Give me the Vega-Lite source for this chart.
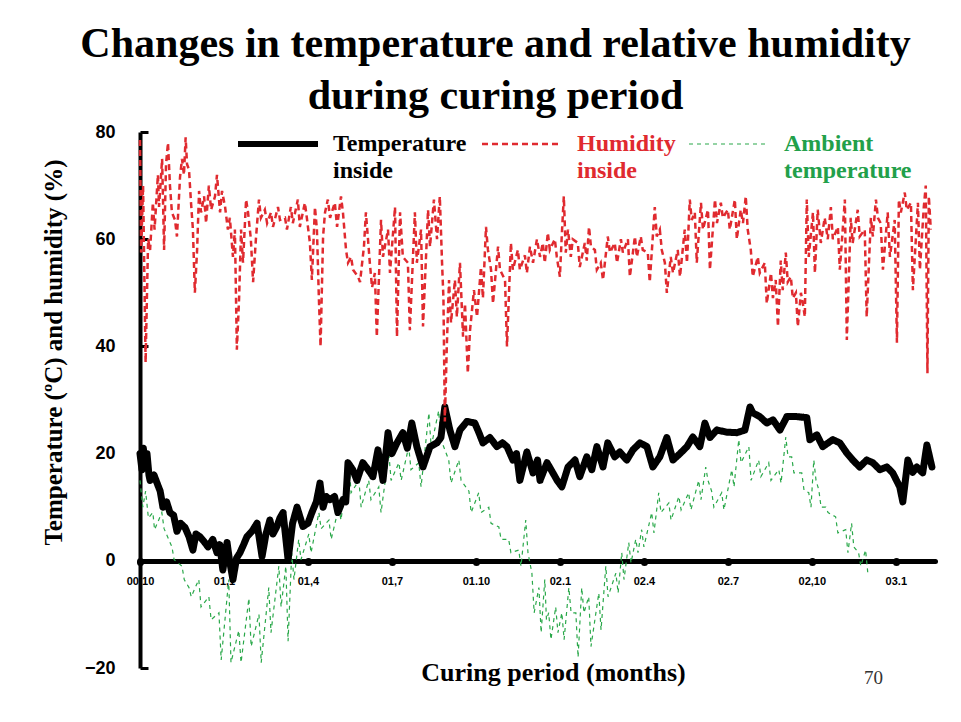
{
"$schema": "https://vega.github.io/schema/vega-lite/v6.json",
"width": 795, "height": 536,
"autosize": {"type": "none"},
"padding": {"left": 140, "top": 132, "right": 26, "bottom": 54},
"background": "white",
"title": {"text": ["Changes in temperature and relative humidity", "during curing period"], "font": "Liberation Serif", "fontSize": 42, "fontWeight": "bold", "color": "black", "anchor": "middle", "frame": "group", "dx": -42, "offset": 5, "lineHeight": 52},
"config": {"view": {"stroke": null}, "axis": {"grid": false}},
"datasets": {
"series": [
{"s":"T","t":0,"v":20},{"s":"T","t":0.07,"v":17},{"s":"T","t":0.12,"v":21},{"s":"T","t":0.18,"v":18},{"s":"T","t":0.25,"v":20},{"s":"T","t":0.32,"v":16},{"s":"T","t":0.36,"v":15},{"s":"T","t":0.5,"v":16},{"s":"T","t":0.61,"v":14.5},{"s":"T","t":0.72,"v":13},{"s":"T","t":0.82,"v":10},{"s":"T","t":0.95,"v":11},{"s":"T","t":1.07,"v":9},{"s":"T","t":1.2,"v":8.5},{"s":"T","t":1.32,"v":5.5},{"s":"T","t":1.45,"v":7},{"s":"T","t":1.61,"v":6.2},{"s":"T","t":1.75,"v":4.5},{"s":"T","t":1.89,"v":2},{"s":"T","t":2.0,"v":5},{"s":"T","t":2.14,"v":4.5},{"s":"T","t":2.3,"v":3.5},{"s":"T","t":2.43,"v":2.6},{"s":"T","t":2.6,"v":4},{"s":"T","t":2.75,"v":1.5},{"s":"T","t":2.85,"v":3},{"s":"T","t":2.96,"v":-1.7},{"s":"T","t":3.11,"v":3.4},{"s":"T","t":3.2,"v":0},{"s":"T","t":3.32,"v":-3.5},{"s":"T","t":3.45,"v":0.5},{"s":"T","t":3.57,"v":1.5},{"s":"T","t":3.7,"v":3},{"s":"T","t":3.82,"v":4.5},{"s":"T","t":4.0,"v":5.5},{"s":"T","t":4.18,"v":7},{"s":"T","t":4.36,"v":0.8},{"s":"T","t":4.5,"v":5},{"s":"T","t":4.64,"v":7.6},{"s":"T","t":4.75,"v":5},{"s":"T","t":4.89,"v":6.4},{"s":"T","t":5.0,"v":8},{"s":"T","t":5.11,"v":9},{"s":"T","t":5.29,"v":0.2},{"s":"T","t":5.45,"v":7},{"s":"T","t":5.61,"v":10},{"s":"T","t":5.82,"v":6.4},{"s":"T","t":6.0,"v":7},{"s":"T","t":6.14,"v":9},{"s":"T","t":6.3,"v":11},{"s":"T","t":6.43,"v":14.5},{"s":"T","t":6.54,"v":10},{"s":"T","t":6.65,"v":12},{"s":"T","t":6.79,"v":11.4},{"s":"T","t":6.95,"v":12},{"s":"T","t":7.07,"v":9},{"s":"T","t":7.25,"v":11.4},{"s":"T","t":7.35,"v":11},{"s":"T","t":7.43,"v":18.3},{"s":"T","t":7.6,"v":17},{"s":"T","t":7.75,"v":15},{"s":"T","t":7.96,"v":18.3},{"s":"T","t":8.15,"v":17},{"s":"T","t":8.32,"v":15.7},{"s":"T","t":8.5,"v":20.7},{"s":"T","t":8.68,"v":15},{"s":"T","t":8.86,"v":23.9},{"s":"T","t":9.0,"v":20},{"s":"T","t":9.18,"v":22},{"s":"T","t":9.39,"v":23.9},{"s":"T","t":9.55,"v":21},{"s":"T","t":9.71,"v":25.7},{"s":"T","t":9.89,"v":21.3},{"s":"T","t":10.11,"v":17.5},{"s":"T","t":10.36,"v":21.3},{"s":"T","t":10.61,"v":22},{"s":"T","t":10.75,"v":23},{"s":"T","t":10.89,"v":28.7},{"s":"T","t":11.07,"v":24.4},{"s":"T","t":11.25,"v":21.3},{"s":"T","t":11.43,"v":24.4},{"s":"T","t":11.68,"v":26},{"s":"T","t":11.96,"v":25.7},{"s":"T","t":12.1,"v":24},{"s":"T","t":12.25,"v":22},{"s":"T","t":12.5,"v":23},{"s":"T","t":12.75,"v":21.3},{"s":"T","t":12.95,"v":22},{"s":"T","t":13.11,"v":21.3},{"s":"T","t":13.32,"v":18.8},{"s":"T","t":13.45,"v":20},{"s":"T","t":13.57,"v":15},{"s":"T","t":13.82,"v":20.3},{"s":"T","t":14.04,"v":16.4},{"s":"T","t":14.2,"v":18.8},{"s":"T","t":14.29,"v":15},{"s":"T","t":14.54,"v":18.3},{"s":"T","t":14.75,"v":16.4},{"s":"T","t":14.9,"v":15},{"s":"T","t":15.07,"v":13.8},{"s":"T","t":15.29,"v":17.5},{"s":"T","t":15.54,"v":18.8},{"s":"T","t":15.71,"v":15.7},{"s":"T","t":15.96,"v":19.4},{"s":"T","t":16.14,"v":17},{"s":"T","t":16.32,"v":21.3},{"s":"T","t":16.54,"v":17.5},{"s":"T","t":16.71,"v":22},{"s":"T","t":16.96,"v":19.4},{"s":"T","t":17.14,"v":20.3},{"s":"T","t":17.39,"v":18.8},{"s":"T","t":17.61,"v":20.7},{"s":"T","t":17.86,"v":22},{"s":"T","t":18.11,"v":21.3},{"s":"T","t":18.32,"v":17.5},{"s":"T","t":18.57,"v":19.4},{"s":"T","t":18.82,"v":23},{"s":"T","t":19.04,"v":18.8},{"s":"T","t":19.29,"v":20},{"s":"T","t":19.54,"v":21.3},{"s":"T","t":19.75,"v":23.1},{"s":"T","t":20.0,"v":21.3},{"s":"T","t":20.18,"v":25.7},{"s":"T","t":20.36,"v":23},{"s":"T","t":20.61,"v":24.4},{"s":"T","t":20.96,"v":24},{"s":"T","t":21.32,"v":23.9},{"s":"T","t":21.61,"v":24.4},{"s":"T","t":21.79,"v":28.7},{"s":"T","t":21.89,"v":27.6},{"s":"T","t":22.14,"v":26.9},{"s":"T","t":22.39,"v":25.7},{"s":"T","t":22.61,"v":26.3},{"s":"T","t":22.86,"v":24.4},{"s":"T","t":23.11,"v":26.9},{"s":"T","t":23.46,"v":26.9},{"s":"T","t":23.82,"v":26.7},{"s":"T","t":23.93,"v":22.6},{"s":"T","t":24.18,"v":23.5},{"s":"T","t":24.39,"v":21.3},{"s":"T","t":24.75,"v":22.6},{"s":"T","t":25.0,"v":22},{"s":"T","t":25.25,"v":20.1},{"s":"T","t":25.46,"v":18.8},{"s":"T","t":25.71,"v":17.5},{"s":"T","t":25.96,"v":18.8},{"s":"T","t":26.18,"v":18.3},{"s":"T","t":26.43,"v":17},{"s":"T","t":26.68,"v":17.5},{"s":"T","t":26.89,"v":16.4},{"s":"T","t":27.14,"v":13.8},{"s":"T","t":27.25,"v":11},{"s":"T","t":27.43,"v":18.8},{"s":"T","t":27.6,"v":16.5},{"s":"T","t":27.75,"v":17.5},{"s":"T","t":27.96,"v":16.4},{"s":"T","t":28.11,"v":21.6},{"s":"T","t":28.29,"v":17.5},
{"s":"A","t":0.0,"v":15},{"s":"A","t":0.1,"v":10},{"s":"A","t":0.2,"v":13},{"s":"A","t":0.3,"v":8},{"s":"A","t":0.46,"v":9},{"s":"A","t":0.52,"v":5.8},{"s":"A","t":0.78,"v":9},{"s":"A","t":0.86,"v":6},{"s":"A","t":1.14,"v":2.6},{"s":"A","t":1.22,"v":0.2},{"s":"A","t":1.5,"v":-1},{"s":"A","t":1.58,"v":-3.5},{"s":"A","t":1.75,"v":-5},{"s":"A","t":1.83,"v":-6.7},{"s":"A","t":2.1,"v":-3.5},{"s":"A","t":2.18,"v":-8.6},{"s":"A","t":2.46,"v":-6.7},{"s":"A","t":2.54,"v":-11},{"s":"A","t":2.82,"v":-9.7},{"s":"A","t":2.9,"v":-18.5},{"s":"A","t":3.17,"v":-3.5},{"s":"A","t":3.25,"v":-19},{"s":"A","t":3.53,"v":-13},{"s":"A","t":3.61,"v":-19},{"s":"A","t":3.89,"v":-7},{"s":"A","t":3.97,"v":-16},{"s":"A","t":4.25,"v":-10},{"s":"A","t":4.33,"v":-19},{"s":"A","t":4.6,"v":-5},{"s":"A","t":4.68,"v":-13.4},{"s":"A","t":4.96,"v":-1},{"s":"A","t":5.04,"v":-8.6},{"s":"A","t":5.21,"v":-1},{"s":"A","t":5.29,"v":-15},{"s":"A","t":5.42,"v":1.5},{"s":"A","t":5.5,"v":-3.5},{"s":"A","t":5.67,"v":4},{"s":"A","t":5.75,"v":0.2},{"s":"A","t":6.03,"v":5},{"s":"A","t":6.11,"v":1.5},{"s":"A","t":6.39,"v":9},{"s":"A","t":6.47,"v":6},{"s":"A","t":6.75,"v":7.6},{"s":"A","t":6.83,"v":4},{"s":"A","t":7.1,"v":10},{"s":"A","t":7.18,"v":7.6},{"s":"A","t":7.46,"v":18.8},{"s":"A","t":7.54,"v":12.7},{"s":"A","t":7.82,"v":15},{"s":"A","t":7.9,"v":10},{"s":"A","t":8.17,"v":15},{"s":"A","t":8.25,"v":11.4},{"s":"A","t":8.53,"v":13.8},{"s":"A","t":8.61,"v":9},{"s":"A","t":8.89,"v":20},{"s":"A","t":8.97,"v":15},{"s":"A","t":9.25,"v":18.3},{"s":"A","t":9.33,"v":15},{"s":"A","t":9.6,"v":21.3},{"s":"A","t":9.68,"v":17},{"s":"A","t":9.96,"v":18.3},{"s":"A","t":10.04,"v":13.8},{"s":"A","t":10.32,"v":27.6},{"s":"A","t":10.4,"v":21.3},{"s":"A","t":10.67,"v":28},{"s":"A","t":10.75,"v":22.6},{"s":"A","t":11.03,"v":18.8},{"s":"A","t":11.11,"v":14.5},{"s":"A","t":11.39,"v":18.8},{"s":"A","t":11.47,"v":15},{"s":"A","t":11.75,"v":13},{"s":"A","t":11.83,"v":9},{"s":"A","t":12.1,"v":12.7},{"s":"A","t":12.18,"v":9},{"s":"A","t":12.46,"v":10},{"s":"A","t":12.54,"v":7},{"s":"A","t":12.82,"v":6.3},{"s":"A","t":12.9,"v":4},{"s":"A","t":13.17,"v":4},{"s":"A","t":13.25,"v":1.5},{"s":"A","t":13.53,"v":2},{"s":"A","t":13.61,"v":-1},{"s":"A","t":13.78,"v":7.6},{"s":"A","t":13.86,"v":1.5},{"s":"A","t":14.0,"v":-2.3},{"s":"A","t":14.08,"v":-9.7},{"s":"A","t":14.25,"v":-5},{"s":"A","t":14.33,"v":-13.4},{"s":"A","t":14.46,"v":-3.5},{"s":"A","t":14.52,"v":-11},{"s":"A","t":14.6,"v":-9.7},{"s":"A","t":14.68,"v":-14.7},{"s":"A","t":14.85,"v":-8.6},{"s":"A","t":14.93,"v":-13.4},{"s":"A","t":15.07,"v":-9.7},{"s":"A","t":15.15,"v":-14.7},{"s":"A","t":15.32,"v":-5},{"s":"A","t":15.4,"v":-9.7},{"s":"A","t":15.57,"v":-9.7},{"s":"A","t":15.65,"v":-18},{"s":"A","t":15.78,"v":-5},{"s":"A","t":15.86,"v":-9.7},{"s":"A","t":16.03,"v":-6.7},{"s":"A","t":16.11,"v":-16},{"s":"A","t":16.39,"v":-6},{"s":"A","t":16.47,"v":-12.9},{"s":"A","t":16.64,"v":-1},{"s":"A","t":16.72,"v":-6.7},{"s":"A","t":17.0,"v":-2.3},{"s":"A","t":17.08,"v":-6},{"s":"A","t":17.21,"v":1.5},{"s":"A","t":17.29,"v":-3.5},{"s":"A","t":17.46,"v":3.4},{"s":"A","t":17.54,"v":-0.4},{"s":"A","t":17.71,"v":4},{"s":"A","t":17.79,"v":1.5},{"s":"A","t":17.92,"v":5.8},{"s":"A","t":18.0,"v":2.6},{"s":"A","t":18.28,"v":9},{"s":"A","t":18.36,"v":5.2},{"s":"A","t":18.53,"v":12.7},{"s":"A","t":18.61,"v":9},{"s":"A","t":18.89,"v":10.8},{"s":"A","t":18.97,"v":7.6},{"s":"A","t":19.25,"v":12},{"s":"A","t":19.33,"v":9.5},{"s":"A","t":19.6,"v":12.7},{"s":"A","t":19.68,"v":9.5},{"s":"A","t":19.96,"v":15},{"s":"A","t":20.04,"v":11.4},{"s":"A","t":20.21,"v":17.5},{"s":"A","t":20.29,"v":15},{"s":"A","t":20.42,"v":13},{"s":"A","t":20.5,"v":10},{"s":"A","t":20.78,"v":12.7},{"s":"A","t":20.86,"v":9.5},{"s":"A","t":21.14,"v":17},{"s":"A","t":21.22,"v":13.8},{"s":"A","t":21.39,"v":22.6},{"s":"A","t":21.47,"v":18.3},{"s":"A","t":21.75,"v":21.3},{"s":"A","t":21.83,"v":15},{"s":"A","t":22.1,"v":18.8},{"s":"A","t":22.18,"v":15.7},{"s":"A","t":22.46,"v":18.3},{"s":"A","t":22.54,"v":15},{"s":"A","t":22.82,"v":17},{"s":"A","t":22.9,"v":14.5},{"s":"A","t":23.07,"v":23.1},{"s":"A","t":23.15,"v":19.4},{"s":"A","t":23.28,"v":19.4},{"s":"A","t":23.36,"v":16.4},{"s":"A","t":23.64,"v":16.4},{"s":"A","t":23.72,"v":13.2},{"s":"A","t":23.89,"v":12.7},{"s":"A","t":23.97,"v":10},{"s":"A","t":24.07,"v":18.8},{"s":"A","t":24.15,"v":15},{"s":"A","t":24.25,"v":13.2},{"s":"A","t":24.33,"v":10},{"s":"A","t":24.5,"v":10},{"s":"A","t":24.58,"v":9},{"s":"A","t":24.85,"v":8.2},{"s":"A","t":24.93,"v":5.2},{"s":"A","t":25.21,"v":5.8},{"s":"A","t":25.29,"v":1.5},{"s":"A","t":25.42,"v":7},{"s":"A","t":25.5,"v":2.6},{"s":"A","t":25.67,"v":1.5},{"s":"A","t":25.75,"v":-1},{"s":"A","t":25.92,"v":2},{"s":"A","t":26.0,"v":-2.3},
{"s":"H","t":0.0,"v":78.5},{"s":"H","t":0.04,"v":57.5},{"s":"H","t":0.11,"v":70},{"s":"H","t":0.2,"v":37},{"s":"H","t":0.29,"v":60},{"s":"H","t":0.36,"v":58},{"s":"H","t":0.46,"v":66.8},{"s":"H","t":0.52,"v":61.8},{"s":"H","t":0.64,"v":72},{"s":"H","t":0.68,"v":66},{"s":"H","t":0.79,"v":75},{"s":"H","t":0.86,"v":58},{"s":"H","t":0.93,"v":74},{"s":"H","t":1.0,"v":78},{"s":"H","t":1.07,"v":70},{"s":"H","t":1.14,"v":65},{"s":"H","t":1.25,"v":63.6},{"s":"H","t":1.32,"v":60.5},{"s":"H","t":1.43,"v":71.6},{"s":"H","t":1.5,"v":75},{"s":"H","t":1.57,"v":72},{"s":"H","t":1.63,"v":79},{"s":"H","t":1.68,"v":74},{"s":"H","t":1.75,"v":73},{"s":"H","t":1.82,"v":67},{"s":"H","t":1.89,"v":61.8},{"s":"H","t":1.96,"v":50},{"s":"H","t":2.04,"v":58},{"s":"H","t":2.11,"v":69},{"s":"H","t":2.18,"v":65},{"s":"H","t":2.29,"v":68},{"s":"H","t":2.36,"v":63},{"s":"H","t":2.46,"v":70},{"s":"H","t":2.54,"v":65.5},{"s":"H","t":2.68,"v":68},{"s":"H","t":2.75,"v":72},{"s":"H","t":2.86,"v":65},{"s":"H","t":2.93,"v":69},{"s":"H","t":3.04,"v":66},{"s":"H","t":3.14,"v":61.8},{"s":"H","t":3.21,"v":64},{"s":"H","t":3.32,"v":56.7},{"s":"H","t":3.39,"v":61.8},{"s":"H","t":3.46,"v":39.4},{"s":"H","t":3.54,"v":49},{"s":"H","t":3.61,"v":61.8},{"s":"H","t":3.68,"v":55.6},{"s":"H","t":3.79,"v":67.4},{"s":"H","t":3.86,"v":65},{"s":"H","t":3.96,"v":60},{"s":"H","t":4.04,"v":52},{"s":"H","t":4.14,"v":60},{"s":"H","t":4.25,"v":67.4},{"s":"H","t":4.32,"v":64},{"s":"H","t":4.46,"v":65.5},{"s":"H","t":4.54,"v":63},{"s":"H","t":4.68,"v":65},{"s":"H","t":4.75,"v":62.3},{"s":"H","t":4.93,"v":66},{"s":"H","t":5.0,"v":63.6},{"s":"H","t":5.18,"v":64},{"s":"H","t":5.25,"v":61.8},{"s":"H","t":5.39,"v":66},{"s":"H","t":5.46,"v":63},{"s":"H","t":5.64,"v":67.4},{"s":"H","t":5.71,"v":62.3},{"s":"H","t":5.89,"v":66.8},{"s":"H","t":5.96,"v":64},{"s":"H","t":6.07,"v":59.3},{"s":"H","t":6.14,"v":52.4},{"s":"H","t":6.25,"v":66},{"s":"H","t":6.32,"v":61.8},{"s":"H","t":6.39,"v":49},{"s":"H","t":6.45,"v":40},{"s":"H","t":6.54,"v":60.5},{"s":"H","t":6.61,"v":65},{"s":"H","t":6.71,"v":67.4},{"s":"H","t":6.79,"v":64},{"s":"H","t":6.96,"v":66.8},{"s":"H","t":7.04,"v":62.3},{"s":"H","t":7.18,"v":68},{"s":"H","t":7.25,"v":65},{"s":"H","t":7.36,"v":58},{"s":"H","t":7.43,"v":55.6},{"s":"H","t":7.54,"v":56.7},{"s":"H","t":7.61,"v":54.3},{"s":"H","t":7.79,"v":53},{"s":"H","t":7.86,"v":52},{"s":"H","t":8.0,"v":58.6},{"s":"H","t":8.07,"v":65},{"s":"H","t":8.21,"v":55.6},{"s":"H","t":8.29,"v":51},{"s":"H","t":8.39,"v":53.7},{"s":"H","t":8.46,"v":41.8},{"s":"H","t":8.61,"v":63.6},{"s":"H","t":8.68,"v":56.7},{"s":"H","t":8.86,"v":61.8},{"s":"H","t":8.93,"v":53.7},{"s":"H","t":9.11,"v":66},{"s":"H","t":9.18,"v":41.8},{"s":"H","t":9.29,"v":65},{"s":"H","t":9.39,"v":56.7},{"s":"H","t":9.57,"v":55.6},{"s":"H","t":9.64,"v":43},{"s":"H","t":9.82,"v":65},{"s":"H","t":9.89,"v":55.6},{"s":"H","t":10.04,"v":61.8},{"s":"H","t":10.11,"v":43.7},{"s":"H","t":10.29,"v":65.5},{"s":"H","t":10.36,"v":58.6},{"s":"H","t":10.5,"v":67.4},{"s":"H","t":10.61,"v":60},{"s":"H","t":10.71,"v":68},{"s":"H","t":10.79,"v":55.6},{"s":"H","t":10.84,"v":49},{"s":"H","t":10.89,"v":26},{"s":"H","t":10.96,"v":40},{"s":"H","t":11.04,"v":52.4},{"s":"H","t":11.11,"v":44.4},{"s":"H","t":11.25,"v":52.4},{"s":"H","t":11.32,"v":45.5},{"s":"H","t":11.43,"v":55.6},{"s":"H","t":11.54,"v":41.8},{"s":"H","t":11.61,"v":48},{"s":"H","t":11.71,"v":35},{"s":"H","t":11.79,"v":43},{"s":"H","t":11.93,"v":50.5},{"s":"H","t":12.04,"v":45.5},{"s":"H","t":12.18,"v":54.8},{"s":"H","t":12.25,"v":49},{"s":"H","t":12.36,"v":62.3},{"s":"H","t":12.43,"v":58},{"s":"H","t":12.54,"v":54.3},{"s":"H","t":12.61,"v":48},{"s":"H","t":12.79,"v":58.6},{"s":"H","t":12.86,"v":54.3},{"s":"H","t":13.04,"v":52.4},{"s":"H","t":13.11,"v":40},{"s":"H","t":13.25,"v":59.3},{"s":"H","t":13.32,"v":54.3},{"s":"H","t":13.5,"v":58},{"s":"H","t":13.57,"v":54.3},{"s":"H","t":13.75,"v":57},{"s":"H","t":13.82,"v":53.7},{"s":"H","t":13.93,"v":58.6},{"s":"H","t":14.04,"v":55.6},{"s":"H","t":14.18,"v":60},{"s":"H","t":14.29,"v":56.7},{"s":"H","t":14.39,"v":59.3},{"s":"H","t":14.46,"v":55.6},{"s":"H","t":14.57,"v":61.2},{"s":"H","t":14.64,"v":58},{"s":"H","t":14.82,"v":60},{"s":"H","t":14.89,"v":56.7},{"s":"H","t":15.0,"v":53},{"s":"H","t":15.07,"v":61},{"s":"H","t":15.14,"v":68},{"s":"H","t":15.21,"v":57.5},{"s":"H","t":15.29,"v":61.8},{"s":"H","t":15.39,"v":56.7},{"s":"H","t":15.46,"v":60},{"s":"H","t":15.64,"v":59.3},{"s":"H","t":15.71,"v":54.8},{"s":"H","t":15.89,"v":59.3},{"s":"H","t":15.96,"v":56},{"s":"H","t":16.04,"v":62.3},{"s":"H","t":16.11,"v":58.6},{"s":"H","t":16.25,"v":58},{"s":"H","t":16.32,"v":54.3},{"s":"H","t":16.46,"v":55.6},{"s":"H","t":16.54,"v":52.4},{"s":"H","t":16.71,"v":60.5},{"s":"H","t":16.79,"v":57.5},{"s":"H","t":16.96,"v":59.3},{"s":"H","t":17.04,"v":55.6},{"s":"H","t":17.18,"v":60},{"s":"H","t":17.25,"v":57.5},{"s":"H","t":17.43,"v":60},{"s":"H","t":17.5,"v":53},{"s":"H","t":17.68,"v":60.5},{"s":"H","t":17.75,"v":56.7},{"s":"H","t":17.89,"v":60.5},{"s":"H","t":17.96,"v":58},{"s":"H","t":18.14,"v":57.5},{"s":"H","t":18.21,"v":52},{"s":"H","t":18.39,"v":66},{"s":"H","t":18.46,"v":60.5},{"s":"H","t":18.57,"v":61.8},{"s":"H","t":18.64,"v":58},{"s":"H","t":18.75,"v":55.6},{"s":"H","t":18.82,"v":50},{"s":"H","t":18.96,"v":56.7},{"s":"H","t":19.04,"v":53.7},{"s":"H","t":19.21,"v":58},{"s":"H","t":19.29,"v":53},{"s":"H","t":19.46,"v":61.8},{"s":"H","t":19.54,"v":55.6},{"s":"H","t":19.64,"v":67.4},{"s":"H","t":19.71,"v":63.6},{"s":"H","t":19.82,"v":65},{"s":"H","t":19.89,"v":55.6},{"s":"H","t":20.04,"v":66.8},{"s":"H","t":20.11,"v":61.8},{"s":"H","t":20.29,"v":65.5},{"s":"H","t":20.36,"v":54.3},{"s":"H","t":20.54,"v":67.4},{"s":"H","t":20.61,"v":63},{"s":"H","t":20.75,"v":66.8},{"s":"H","t":20.82,"v":64},{"s":"H","t":21.0,"v":65.5},{"s":"H","t":21.07,"v":61.8},{"s":"H","t":21.25,"v":67.4},{"s":"H","t":21.32,"v":60},{"s":"H","t":21.46,"v":65.5},{"s":"H","t":21.54,"v":63},{"s":"H","t":21.64,"v":68},{"s":"H","t":21.71,"v":61.8},{"s":"H","t":21.82,"v":58},{"s":"H","t":21.89,"v":53},{"s":"H","t":22.07,"v":56.7},{"s":"H","t":22.14,"v":53.7},{"s":"H","t":22.32,"v":55.6},{"s":"H","t":22.39,"v":48},{"s":"H","t":22.54,"v":53.7},{"s":"H","t":22.61,"v":49},{"s":"H","t":22.71,"v":52.4},{"s":"H","t":22.79,"v":43.7},{"s":"H","t":22.89,"v":56},{"s":"H","t":22.96,"v":50.5},{"s":"H","t":23.07,"v":57.5},{"s":"H","t":23.14,"v":52},{"s":"H","t":23.25,"v":53},{"s":"H","t":23.32,"v":49},{"s":"H","t":23.43,"v":50},{"s":"H","t":23.5,"v":43.7},{"s":"H","t":23.61,"v":50},{"s":"H","t":23.68,"v":48},{"s":"H","t":23.75,"v":45.5},{"s":"H","t":23.82,"v":67.4},{"s":"H","t":23.89,"v":56.7},{"s":"H","t":24.04,"v":65},{"s":"H","t":24.11,"v":53.7},{"s":"H","t":24.21,"v":65.5},{"s":"H","t":24.32,"v":59.3},{"s":"H","t":24.46,"v":64},{"s":"H","t":24.57,"v":60},{"s":"H","t":24.68,"v":66},{"s":"H","t":24.75,"v":60},{"s":"H","t":24.93,"v":62.3},{"s":"H","t":25.0,"v":54.3},{"s":"H","t":25.18,"v":67.4},{"s":"H","t":25.25,"v":41.2},{"s":"H","t":25.39,"v":64},{"s":"H","t":25.46,"v":59.3},{"s":"H","t":25.64,"v":65.5},{"s":"H","t":25.71,"v":60.5},{"s":"H","t":25.89,"v":61.8},{"s":"H","t":25.96,"v":45.5},{"s":"H","t":26.11,"v":64},{"s":"H","t":26.18,"v":60.5},{"s":"H","t":26.29,"v":67.4},{"s":"H","t":26.36,"v":64},{"s":"H","t":26.46,"v":63},{"s":"H","t":26.54,"v":54.3},{"s":"H","t":26.71,"v":65},{"s":"H","t":26.79,"v":56.7},{"s":"H","t":26.96,"v":63.6},{"s":"H","t":27.04,"v":40.7},{"s":"H","t":27.11,"v":67.4},{"s":"H","t":27.18,"v":65},{"s":"H","t":27.32,"v":68.7},{"s":"H","t":27.39,"v":65.5},{"s":"H","t":27.54,"v":66.8},{"s":"H","t":27.61,"v":50.5},{"s":"H","t":27.79,"v":66.8},{"s":"H","t":27.86,"v":54.3},{"s":"H","t":28.0,"v":66},{"s":"H","t":28.07,"v":70},{"s":"H","t":28.13,"v":35},{"s":"H","t":28.18,"v":68},{"s":"H","t":28.25,"v":61.8}
],
"note": [{"t": 26.2, "v": -21.8, "label": "70"}]
},
"layer": [
{
"data": {"name": "series"},
"transform": [{"filter": "datum.s == 'A'"}],
"mark": {"type": "line", "strokeWidth": 1.2, "clip": false},
"encoding": {
"x": {"field": "t", "type": "quantitative", "scale": {"domain": [0, 28.4], "nice": false, "zero": false},
 "axis": {"values": [0,3,6,9,12,15,18,21,24,27], "offset": -107, "domainWidth": 5, "domainColor": "black", "domainCap": "round",
  "ticks": true, "tickSize": 1, "tickWidth": 7, "tickCap": "round", "tickColor": "black",
  "labelExpr": "['00,10','01,1','01,4','01,7','01.10','02.1','02.4','02.7','02,10','03.1'][round(datum.value/3)]",
  "labelFont": "Liberation Sans", "labelFontWeight": "bold", "labelFontSize": 11, "labelColor": "black", "labelPadding": 13, "labelOverlap": false, "labelFlush": false,
  "title": "Curing period (months)", "titleFont": "Liberation Serif", "titleFontSize": 26, "titleFontWeight": "bold", "titleColor": "black",
  "titleX": 413, "titleY": 111, "titleAlign": "center", "titleBaseline": "middle", "titleAnchor": null}},
"y": {"field": "v", "type": "quantitative", "scale": {"domain": [-20, 80], "nice": false, "zero": false},
 "axis": {"values": [-20,0,20,40,60,80], "domainWidth": 4, "domainColor": "black", "ticks": true, "tickSize": -8, "tickWidth": 3, "tickColor": "black",
  "labelFont": "Liberation Sans", "labelFontWeight": "bold", "labelFontSize": 18, "labelColor": "black", "labelPadding": 33, "labelFlush": false,
  "title": "Temperature (ºC) and humidity (%)", "titleFont": "Liberation Serif", "titleFontSize": 25, "titleFontWeight": "bold", "titleColor": "black",
  "titleX": -87, "titleY": 220, "titleAlign": "center", "titleBaseline": "middle", "titleAngle": -90}},
"color": {"field": "s", "type": "nominal", "scale": {"domain": ["T","H","A"], "range": ["#000000","#e02a2f","#2aa84a"]},
 "legend": {"orient": "none", "legendX": 126, "legendY": 0, "direction": "horizontal", "title": null, "symbolType": "stroke", "symbolSize": 6400,
  "labelFont": "Liberation Serif", "labelFontSize": 24, "labelFontWeight": "bold", "labelOffset": 43, "columnPadding": 10, "labelLimit": 300,
  "labelExpr": "datum.value == 'T' ? ['Temperature','inside'] : datum.value == 'H' ? ['Humidity','inside'] : ['Ambient','temperature']",
  "encode": {"labels": {"update": {"fill": {"signal": "datum.value == 'H' ? '#e02a2f' : datum.value == 'A' ? '#22a04a' : '#000000'"}, "lineHeight": {"value": 27}}},
   "symbols": {"update": {"strokeWidth": {"signal": "datum.value == 'T' ? 6 : datum.value == 'H' ? 2.5 : 1.2"}}}}}},
"strokeDash": {"field": "s", "type": "nominal", "scale": {"domain": ["T","H","A"], "range": [[1,0],[6,4],[4,4]]}}
}
},
{
"data": {"name": "series"},
"transform": [{"filter": "datum.s == 'T'"}],
"mark": {"type": "line", "strokeWidth": 7, "strokeCap": "round", "strokeJoin": "round", "clip": false},
"encoding": {
"x": {"field": "t", "type": "quantitative"},
"y": {"field": "v", "type": "quantitative"},
"color": {"field": "s", "type": "nominal"},
"strokeDash": {"field": "s", "type": "nominal"}
}
},
{
"data": {"name": "series"},
"transform": [{"filter": "datum.s == 'H'"}],
"mark": {"type": "line", "strokeWidth": 2.5, "clip": false},
"encoding": {
"x": {"field": "t", "type": "quantitative"},
"y": {"field": "v", "type": "quantitative"},
"color": {"field": "s", "type": "nominal"},
"strokeDash": {"field": "s", "type": "nominal"}
}
},
{
"data": {"name": "note"},
"mark": {"type": "text", "font": "Liberation Serif", "fontSize": 19, "color": "#333333", "align": "center", "baseline": "middle"},
"encoding": {
"x": {"field": "t", "type": "quantitative"},
"y": {"field": "v", "type": "quantitative"},
"text": {"field": "label"}
}
}
]
}
